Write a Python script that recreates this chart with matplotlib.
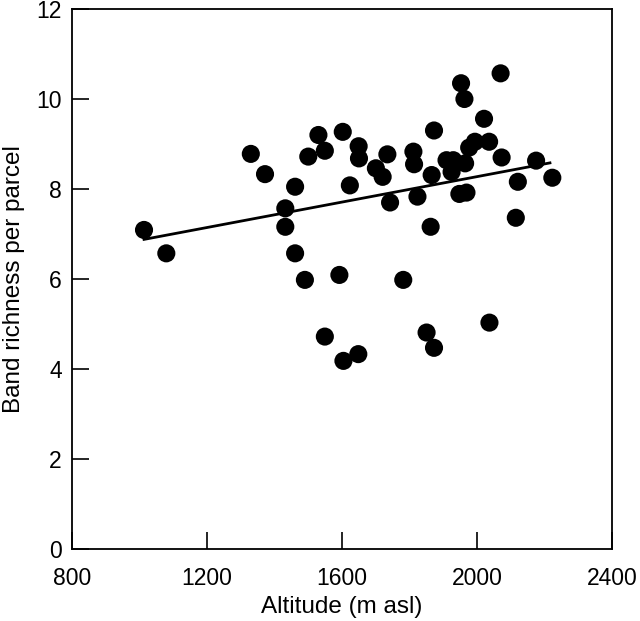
import matplotlib
matplotlib.use("Agg")
import matplotlib.pyplot as plt

plt.rcParams['font.family'] = ['Liberation Sans', 'DejaVu Sans']

altitude = [1014, 1080, 1330, 1372, 1461, 1432, 1432, 1461, 1490, 1592,
            1500, 1530, 1549, 1602, 1623, 1649, 1650, 1734, 1700, 1720,
            1742, 1811, 1813, 1823, 1865, 1862, 1872, 1909, 1929, 1924,
            1964, 1947, 1968, 1976, 1993, 2035, 2072, 2120, 2114, 2174,
            2222, 1781, 2036, 1850, 1872, 1604, 1648, 1549, 1952, 1962,
            2020, 2069]
richness = [7.09, 6.57, 8.78, 8.33, 8.05, 7.57, 7.16, 6.57, 5.98, 6.09,
            8.72, 9.20, 8.85, 9.27, 8.08, 8.95, 8.68, 8.77, 8.46, 8.27,
            7.70, 8.83, 8.55, 7.83, 8.31, 7.16, 9.30, 8.64, 8.64, 8.38,
            8.57, 7.89, 7.92, 8.92, 9.05, 9.05, 8.70, 8.16, 7.36, 8.63,
            8.25, 5.98, 5.03, 4.81, 4.47, 4.18, 4.33, 4.72, 10.35, 10.00,
            9.56, 10.57]
fit_x = [1014, 2215]
fit_y = [6.88, 8.58]

xticks = [800, 1200, 1600, 2000, 2400]
yticks = [0, 2, 4, 6, 8, 10, 12]

fig = plt.figure(figsize=(6.4, 6.21), dpi=100)
ax = fig.add_axes([0.112, 0.116, 0.845, 0.8695])
ax.scatter(altitude, richness, s=170, color='black', edgecolors='none', zorder=3)
ax.plot(fit_x, fit_y, color='black', lw=2, zorder=2)
ax.set_xlim(800, 2400)
ax.set_ylim(0, 12)
ax.set_xticks(xticks)
ax.set_yticks(yticks)
ax.tick_params(direction='in', length=12, width=1.2, labelsize=16.5)
ax.tick_params(axis='x', pad=13)
ax.tick_params(axis='y', pad=7)
for s in ax.spines.values():
    s.set_linewidth(1.3)
ax.set_xlabel('Altitude (m asl)', fontsize=17.5, labelpad=4)
ax.set_ylabel('Band richness per parcel', fontsize=17.5, labelpad=8)
fig.savefig('out.png', dpi=100)
